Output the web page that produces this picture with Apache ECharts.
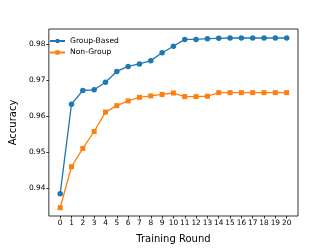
<!DOCTYPE html>
<html>
<head>
<meta charset="utf-8">
<script src="https://cdn.jsdelivr.net/npm/echarts@6/dist/echarts.min.js"></script>
<style>
html,body{margin:0;padding:0;background:#fff;}
#c{width:332px;height:249px;}
</style>
</head>
<body>
<div id="c"></div>
<script>
var rounds = [0,1,2,3,4,5,6,7,8,9,10,11,12,13,14,15,16,17,18,19,20];
var groupBased = [0.9385,0.9634,0.9672,0.9674,0.9695,0.9725,0.9739,0.9746,0.9755,0.9777,0.9795,0.9814,0.9814,0.9816,0.9817,0.9818,0.9818,0.9818,0.9818,0.9818,0.9818];
var nonGroup = [0.9346,0.9460,0.9511,0.9558,0.9612,0.9630,0.9643,0.9653,0.9657,0.9661,0.9665,0.9655,0.9655,0.9656,0.9666,0.9666,0.9666,0.9666,0.9666,0.9666,0.9666];
var xTicks = [0,1,2,3,4,5,6,7,8,9,10,11,12,13,14,15,16,17,18,19,20];
var yTicks = [0.94,0.95,0.96,0.97,0.98];
var seriesNames = ['Group-Based','Non-Group'];

function pairs(xs, ys){ return xs.map(function(x,i){return [x, ys[i]];}); }

var font = 'DejaVu Sans';
var chart = echarts.init(document.getElementById('c'), null, {renderer:'canvas'});
chart.setOption({
  animation:false,
  backgroundColor:'#fff',
  textStyle:{fontFamily:font},
  grid:{left:41.5,right:34,top:29,bottom:28,show:true,borderColor:'#000',borderWidth:0.8,backgroundColor:'transparent'},
  legend:{
    left:44, top:32, orient:'vertical', itemGap:3.5, itemWidth:15, itemHeight:5.5,
    textStyle:{fontFamily:font,fontSize:7.6,color:'#000',padding:[0,0,0,0]},
    data:seriesNames
  },
  xAxis:{
    type:'value', min:-1, max:21,
    name:'Training Round', nameLocation:'middle', nameGap:18,
    nameTextStyle:{fontFamily:font,fontSize:10,color:'#000'},
    axisLine:{show:false,onZero:false},
    splitLine:{show:false},
    axisTick:{show:true,inside:false,length:2.5,lineStyle:{color:'#000',width:0.8},customValues:xTicks},
    axisLabel:{customValues:xTicks,fontFamily:font,fontSize:7.4,color:'#000',margin:3.5}
  },
  yAxis:{
    type:'value', min:0.9323, max:0.9843,
    name:'Accuracy', nameLocation:'middle', nameGap:28,
    nameTextStyle:{fontFamily:font,fontSize:10,color:'#000'},
    axisLine:{show:false,onZero:false},
    splitLine:{show:false},
    axisTick:{show:true,inside:false,length:2.5,lineStyle:{color:'#000',width:0.8},customValues:yTicks},
    axisLabel:{customValues:yTicks,fontFamily:font,fontSize:7.4,color:'#000',margin:3.5,
      formatter:function(v){return v.toFixed(2);}}
  },
  series:[
    {name:seriesNames[0],type:'line',data:pairs(rounds,groupBased),symbol:'circle',symbolSize:5.5,
     lineStyle:{color:'#1f77b4',width:1.3},itemStyle:{color:'#1f77b4'},z:2},
    {name:seriesNames[1],type:'line',data:pairs(rounds,nonGroup),symbol:'rect',symbolSize:5,
     lineStyle:{color:'#ff7f0e',width:1.3},itemStyle:{color:'#ff7f0e'},z:3}
  ]
});
</script>
</body>
</html>
